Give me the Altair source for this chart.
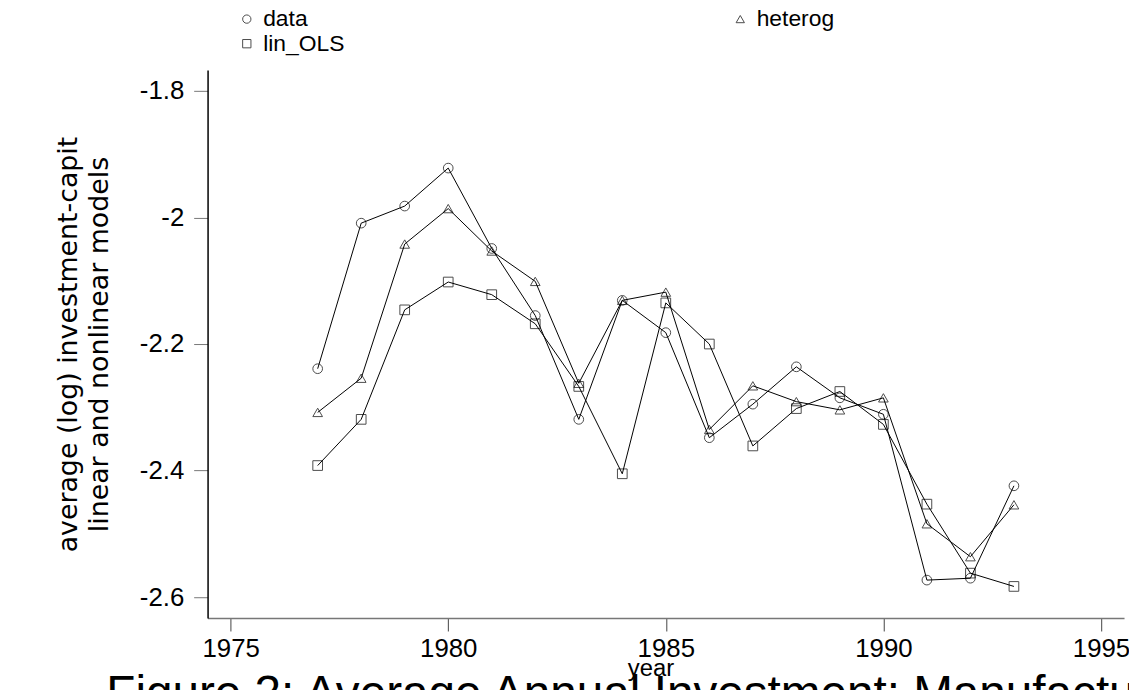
import altair as alt
import pandas as pd

years = list(range(1977, 1994))
data_vals = [-2.239, -2.009, -1.982, -1.922, -2.049, -2.155, -2.319, -2.131, -2.182,
             -2.348, -2.295, -2.236, -2.285, -2.311, -2.573, -2.570, -2.424]
heterog_vals = [-2.308, -2.254, -2.042, -1.986, -2.053, -2.101, -2.262, -2.131, -2.118,
                -2.335, -2.266, -2.291, -2.304, -2.285, -2.484, -2.536, -2.454]
linols_vals = [-2.392, -2.319, -2.146, -2.102, -2.122, -2.168, -2.267, -2.405, -2.135,
               -2.200, -2.361, -2.302, -2.275, -2.327, -2.453, -2.562, -2.583]

series_names = ["data", "heterog", "lin_OLS"]
# legend is laid out column by column: data, lin_OLS | heterog
legend_order = ["data", "lin_OLS", "heterog"]
legend_shapes = ["circle", "square", "triangle-up"]
x_ticks = [1975, 1980, 1985, 1990, 1995]
y_ticks = [-1.8, -2.0, -2.2, -2.4, -2.6]

rows = []
for name, vals in zip(series_names, [data_vals, heterog_vals, linols_vals]):
    for yr, v in zip(years, vals):
        rows.append({"year": yr, "value": v, "series": name})
df = pd.DataFrame(rows)

FONT = "Liberation Sans"

x_enc = alt.X(
    "year:Q",
    scale=alt.Scale(domain=[1974.47, 1995.53], nice=False, zero=False),
    axis=alt.Axis(
        values=x_ticks, format="d", title="year", grid=False,
        tickSize=13, tickColor="#444", domainColor="#777", domainWidth=1.5,
        labelFontSize=26, titleFontSize=24, labelColor="black", titleColor="black",
        labelFont=FONT, titleFont=FONT, titleFontWeight="normal",
        labelPadding=5, titlePadding=-5, titleX=446, titleAlign="center",
    ),
)
y_enc = alt.Y(
    "value:Q",
    scale=alt.Scale(domain=[-2.633, -1.767], nice=False, zero=False),
    axis=alt.Axis(
        values=y_ticks,
        labelExpr="'-' + format(abs(datum.value), '.1~f')",
        title=["average (log) investment-capit", "linear and nonlinear models"],
        grid=False, tickSize=14, tickColor="#777", domainColor="black", domainWidth=1.5,
        labelFontSize=26, titleFontSize=27, labelColor="black", titleColor="black",
        labelFont=FONT, titleFont="DejaVu Sans", titleFontWeight="normal",
        labelPadding=10, titlePadding=26, titleLineHeight=31,
    ),
)

base = alt.Chart(df).encode(x=x_enc, y=y_enc)

lines = base.mark_line(color="black", strokeWidth=1).encode(detail="series:N")
points = base.mark_point(filled=False, color="black", size=95, strokeWidth=1).encode(
    shape=alt.Shape(
        "series:N",
        scale=alt.Scale(domain=legend_order, range=legend_shapes),
        legend=alt.Legend(
            title=None, orient="none", legendX=28, legendY=-63, padding=0, columns=2,
            columnPadding=387, rowPadding=1, labelFontSize=23, labelFont=FONT,
            labelColor="black", symbolSize=70, symbolStrokeColor="black",
            symbolFillColor="transparent", symbolStrokeWidth=1, labelOffset=5,
        ),
    )
)

chart = (
    alt.layer(lines, points)
    .properties(
        width=923,
        height=552,
        autosize=alt.AutoSizeParams(type="none"),
        padding={"left": 201, "top": 60, "right": 5, "bottom": 70},
        view=alt.ViewBackground(strokeOpacity=0, strokeWidth=0),
        title=alt.TitleParams(
            "Figure 2: Average Annual Investment: Manufacturing",
            orient="bottom", anchor="start", frame="group", fontSize=48, font=FONT,
            fontWeight="normal", color="black", offset=-9, dx=-102,
        ),
    )
    .configure_view(strokeWidth=0, stroke="transparent")
    .configure(background="white")
)

chart.save("out.html", embed_options={"renderer": "svg", "actions": False})
